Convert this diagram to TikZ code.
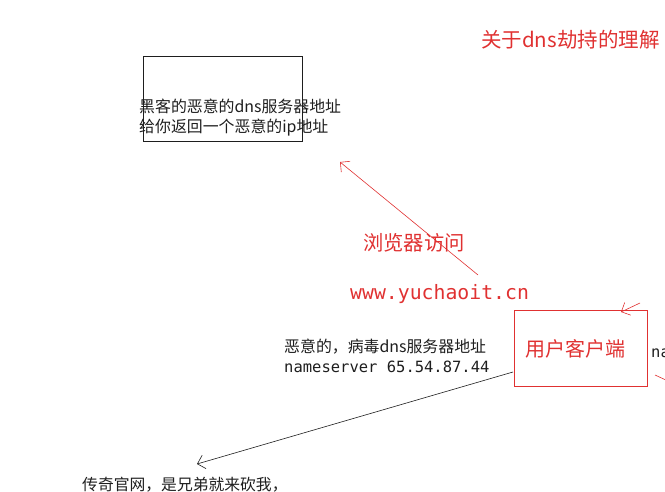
\documentclass[tikz,border=0pt]{standalone}
\usepackage{fontspec}
\setmainfont{Noto Sans CJK SC}
\newfontfamily\monof{DejaVu Sans Mono}
\usetikzlibrary{arrows.meta}
\definecolor{xred}{HTML}{E03131}
\definecolor{xblack}{HTML}{1E1E1E}
\begin{document}
\begin{tikzpicture}[x=1pt,y=-1pt,
  txt/.style={inner sep=0pt, anchor=west, align=left},
  redtxt/.style={txt, text=xred},
  blktxt/.style={txt, text=xblack},
  boxk/.style={draw=xblack, line width=0.8pt, inner sep=0pt},
  boxr/.style={draw=xred, line width=0.8pt, inner sep=0pt},
  arr/.style={-{Straight Barb[length=7pt,width=14pt]}, line width=0.6pt},
]
\useasboundingbox (0,0) rectangle (665,492);
% black box
\node[boxk, minimum width=159pt, minimum height=85pt] (hbox) at (222.5,98.5) {};
\node[blktxt, font=\fontsize{15.9}{20}\selectfont] (htxt) at (139,118) {黑客的恶意的dns服务器地址\\给你返回一个恶意的ip地址};
% title
\node[redtxt, font=\fontsize{20.5}{22}\selectfont] (title) at (481,40) {关于dns劫持的理解};
% browser label
\node[redtxt, font=\fontsize{20.3}{22}\selectfont] (browse) at (363,243) {浏览器访问};
\node[redtxt, font=\monof\fontsize{19.8}{22}\selectfont] (url) at (350,294) {www.yuchaoit.cn};
\coordinate (rs) at (478,275);
\coordinate (re) at (340,162);
\draw[arr, draw=xred] (rs) -- (re);
% client box
\node[boxr, minimum width=133pt, minimum height=76pt] (client) at (580.5,348) {};
\node[text=xred, inner sep=0pt, font=\fontsize{20}{22}\selectfont] (clienttxt) at (575,349) {用户客户端};
% small arrow head coming from the right
\coordinate (sa) at (640,303);
\coordinate (sb) at (621,312);
\draw[arr, draw=xred] (sa) -- (sb);
\node[blktxt, font=\monof\fontsize{15.5}{20}\selectfont] (na) at (651,353) {na};
\coordinate (ls) at (655,375);
\coordinate (le) at (668,381);
\draw[xred, line width=0.6pt] (ls) -- (le);
% malicious dns text
\node[blktxt, font=\fontsize{15.9}{20}\selectfont] (mal) at (284,347) {恶意的，病毒dns服务器地址};
\node[blktxt, font=\monof\fontsize{15.5}{20}\selectfont] (ns) at (284,367) {nameserver 65.54.87.44};
\coordinate (bs) at (513,372);
\coordinate (be) at (197,464);
\draw[arr, draw=xblack] (bs) -- (be);
\node[blktxt, font=\fontsize{15.8}{20}\selectfont] (legend) at (82,485) {传奇官网，是兄弟就来砍我，};
\end{tikzpicture}
\end{document}
